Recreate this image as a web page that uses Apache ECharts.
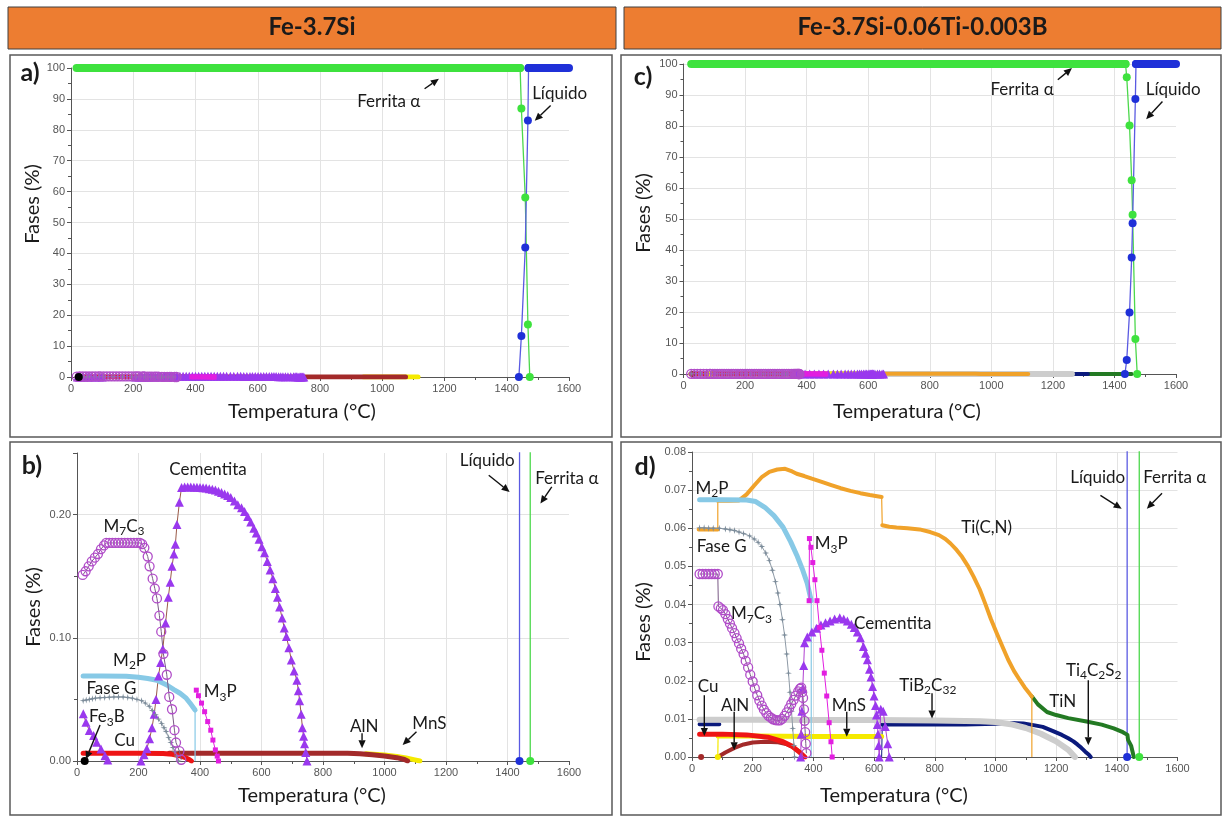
<!DOCTYPE html>
<html>
<head>
<meta charset="utf-8">
<script src="https://cdn.jsdelivr.net/npm/echarts/dist/echarts.min.js"></script>
<style>
html, body { margin: 0; padding: 0; background: #ffffff; }
#main { width: 1223px; height: 819px; }
</style>
</head>
<body>
<div id="main"></div>
<script>
// ---------------- Fe-3.7Si : phase fractions (T in °C, value in %) ----------------
const FERRITE1_PLATEAU = [[18, 100], [1443, 100]];
const FERRITE1_TRANS = [[1443, 100], [1447, 86.9], [1459.5, 58.1], [1468, 17], [1474, 0]];
const LIQUID1_TRANS = [[1439, 0], [1447, 13.3], [1459.5, 41.9], [1468, 83], [1470, 100]];
const LIQUID1_PLATEAU = [[1470, 100], [1600, 100]];

const MNS1 = [[940, 0.0058], [1000, 0.0048], [1040, 0.0036], [1070, 0.0024], [1095, 0.0011], [1115, 0]];
const ALN1 = [[300, 0.0063], [500, 0.0063], [700, 0.0063], [880, 0.0062], [920, 0.0058], [960, 0.005],
  [1000, 0.0041], [1040, 0.0027], [1065, 0.0012], [1075, 0]];
const CEMENTITE1 = [[208, 0], [218, 0.005], [227, 0.01], [236, 0.018], [244, 0.027], [251, 0.038], [257, 0.05],
  [265, 0.069], [272, 0.08], [279, 0.091], [288, 0.112], [297, 0.133], [303, 0.145], [309, 0.158], [315, 0.168],
  [320, 0.176], [325, 0.192], [333, 0.21], [340, 0.222], [350, 0.2225], [360, 0.2225], [370, 0.2225],
  [380, 0.2222], [390, 0.2222], [400, 0.222], [410, 0.2218], [420, 0.2215], [430, 0.221], [440, 0.2205],
  [450, 0.22], [460, 0.219], [470, 0.218], [480, 0.2168], [490, 0.2155], [500, 0.2138], [512, 0.211],
  [523, 0.208], [535, 0.2055], [545, 0.2025], [555, 0.1985], [565, 0.194], [575, 0.189], [583, 0.185],
  [592, 0.18], [601, 0.174], [610, 0.169], [619, 0.162], [628, 0.155], [637, 0.148], [645, 0.14], [652, 0.133],
  [659, 0.125], [667, 0.116], [674, 0.108], [681, 0.101], [689, 0.092], [697, 0.082], [706, 0.073],
  [715, 0.0655], [720, 0.057], [724, 0.049], [729, 0.038], [733, 0.027], [737, 0.02], [740, 0.014],
  [744, 0.007], [748, 0]];
const CEMENTITE1_LOW = [[20.6, 0.0383], [29, 0.0315], [40, 0.0247], [54, 0.0207], [64, 0.0152], [78, 0.0098],
  [91, 0.0043], [100, 0.0008]];
const M2P1 = [[20, 0.069], [80, 0.069], [160, 0.0688], [200, 0.068], [230, 0.067], [260, 0.0655], [292, 0.0617],
  [315, 0.058], [335, 0.055], [355, 0.051], [368, 0.0468], [384, 0.0414]];
const M2P1_DROP = [[384, 0.0414], [384, 0]];
const FASEG1 = [[20, 0.049], [30, 0.0495], [40, 0.05], [50, 0.0505], [60, 0.051], [75, 0.0513], [90, 0.0515],
  [105, 0.0518], [120, 0.052], [135, 0.052], [150, 0.052], [165, 0.0515], [180, 0.051], [195, 0.05],
  [210, 0.049], [222, 0.047], [235, 0.0445], [245, 0.041], [255, 0.0375], [265, 0.034], [275, 0.0305],
  [283, 0.027], [290, 0.024], [298, 0.019], [305, 0.015], [312, 0.011], [318, 0.0075], [324, 0.004], [330, 0]];
const M3P1 = [[388, 0.0575], [395, 0.053], [405, 0.047], [415, 0.04], [425, 0.032], [435, 0.025], [442, 0.017],
  [450, 0.009], [456, 0.004], [460, 0]];
const CU1 = [[20, 0.0063], [100, 0.0063], [200, 0.0062], [280, 0.006], [310, 0.0055], [330, 0.0045],
  [350, 0.003], [365, 0.0012], [372, 0]];
const M7C31 = [[18.5, 0.151], [28, 0.154], [38, 0.158], [48, 0.162], [58, 0.165], [68, 0.168], [78, 0.172],
  [88, 0.175], [95, 0.177], [105, 0.177], [115, 0.177], [125, 0.177], [135, 0.177], [145, 0.177], [155, 0.177],
  [165, 0.177], [175, 0.177], [185, 0.177], [195, 0.177], [205, 0.177], [212, 0.176], [219, 0.173],
  [230, 0.166], [236, 0.158], [246, 0.148], [253, 0.14], [260, 0.132], [268, 0.118], [274, 0.105],
  [281, 0.087], [292, 0.07], [300, 0.052], [309, 0.042], [317, 0.025], [322, 0.015], [333, 0.008], [339, 0.001]];
const FE3B1 = [[25, 0]];

// ---------------- Fe-3.7Si-0.06Ti-0.003B ----------------
const FERRITE2_PLATEAU = [[25, 100], [1436, 100]];
const FERRITE2_TRANS = [[1436, 100], [1440, 95.7], [1449, 80.2], [1456, 62.5], [1459, 51.4], [1468, 11.3], [1474, 0]];
const LIQUID2_TRANS = [[1434, 0], [1440, 4.5], [1449, 19.8], [1456, 37.6], [1459, 48.6], [1468, 88.7], [1470, 100]];
const LIQUID2_PLATEAU = [[1470, 100], [1600, 100]];

const TIN2 = [[1120, 0.0159], [1140, 0.0138], [1170, 0.0118], [1200, 0.011], [1240, 0.0102], [1300, 0.0093],
  [1350, 0.0085], [1390, 0.0075], [1420, 0.0065], [1435, 0.0058], [1437, 0.0045], [1447, 0.003], [1456, 0]];
const TI4C2S2_2 = [[25, 0.0086], [90, 0.0086], null,
  [627, 0.0085], [700, 0.0085], [800, 0.0085], [900, 0.0085], [1000, 0.0087], [1050, 0.0089], [1092, 0.0088],
  [1130, 0.0083], [1156, 0.0079], [1190, 0.0068], [1219, 0.0058], [1240, 0.0049], [1257, 0.0041],
  [1270, 0.0033], [1283, 0.0024], [1296, 0.0014], [1308, 0.0006], [1314, 0]];
const TI4C2S2_2_RISE = [[625, 0], [627, 0.0085]];
const TIB2C32_2 = [[25, 0.0098], [200, 0.0098], [400, 0.0097], [600, 0.0097], [800, 0.0096], [950, 0.0094],
  [1000, 0.0092], [1050, 0.0086], [1100, 0.0076], [1150, 0.0061], [1200, 0.0041], [1240, 0.0019], [1262, 0]];
const TICN2 = [[22, 0.0597], [50, 0.0597], [85, 0.0597], null,
  [85, 0.0672], [120, 0.0672], [155, 0.0673], [180, 0.0689], [205, 0.0712], [231, 0.0735], [255, 0.0748],
  [281, 0.0754], [307, 0.0756], [330, 0.0749], [345, 0.0743], [370, 0.0737], [395, 0.073], [430, 0.0721],
  [459, 0.0713], [490, 0.0705], [522, 0.0698], [555, 0.0692], [586, 0.0687], [610, 0.0684], [625, 0.0682], null,
  [627, 0.0608], [650, 0.0604], [674, 0.0602], [710, 0.06], [750, 0.0597], [785, 0.059], [814, 0.0582],
  [835, 0.0572], [852, 0.056], [872, 0.0543], [890, 0.0525], [910, 0.05], [928, 0.0473], [948, 0.044],
  [966, 0.0403], [985, 0.0362], [1004, 0.0325], [1023, 0.029], [1042, 0.0255], [1061, 0.0226], [1080, 0.0202],
  [1096, 0.0183], [1111, 0.0168], [1120, 0.0159]];
const TICN2_STEPS = [[85, 0.0597], [85, 0.0672], null, [625, 0.0682], [627, 0.0608], null, [1120, 0.0159], [1120, 0]];
const ALN2 = [[85, 0], [110, 0.0012], [140, 0.0024], [170, 0.0033], [200, 0.0038], [240, 0.004], [280, 0.0039],
  [310, 0.0034], [335, 0.0025], [355, 0.0013], [368, 0]];
const ALN2_DOT = [[30, 0]];
const CEMENTITE2 = [[358, 0], [360, 0.006], [362, 0.012], [365, 0.018], [368, 0.024], [371, 0.03], [380, 0.0315],
  [395, 0.0328], [410, 0.0338], [425, 0.0346], [440, 0.0352], [455, 0.0357], [470, 0.0362], [487, 0.0365],
  [500, 0.0362], [512, 0.0357], [525, 0.0348], [535, 0.034], [545, 0.0328], [555, 0.0313], [565, 0.029],
  [572, 0.0272], [578, 0.0255], [585, 0.023], [590, 0.021], [595, 0.0185], [600, 0.016], [605, 0.0135],
  [608, 0.011], [611, 0.0085], [613, 0.006], [615, 0.003], [617, 0], [622, 0.0125], [630, 0.012], [637, 0.008],
  [645, 0.0035], [650, 0]];
const MNS2 = [[86, 0.0055], [200, 0.0055], [400, 0.0054], [625, 0.0054]];
const MNS2_RISE = [[85, 0], [86, 0.0055]];
const MNS2_DOT = [[85, 0]];
const M2P2 = [[25, 0.0675], [100, 0.0675], [180, 0.0674], [210, 0.067], [240, 0.0655], [270, 0.0633],
  [300, 0.0603], [325, 0.0565], [345, 0.053], [365, 0.049], [380, 0.0455], [393, 0.041]];
const M2P2_DROP = [[393, 0.041], [393, 0]];
const FASEG2 = [[25, 0.0601], [40, 0.0601], [55, 0.06], [70, 0.06], [90, 0.06], [110, 0.0598], [125, 0.0596],
  [140, 0.0594], [155, 0.059], [170, 0.0586], [190, 0.058], [205, 0.0572], [218, 0.0563], [230, 0.0552],
  [243, 0.0535], [255, 0.0515], [265, 0.049], [275, 0.046], [283, 0.043], [290, 0.04], [298, 0.036],
  [305, 0.032], [312, 0.027], [318, 0.022], [323, 0.017], [328, 0.012], [332, 0.0075], [336, 0.003], [338, 0]];
const M3P2 = [[386, 0.041], [387, 0.0573], [392, 0.055], [398, 0.051], [405, 0.0465], [412, 0.041], [420, 0.034],
  [428, 0.028], [436, 0.022], [444, 0.016], [452, 0.009], [458, 0.004], [462, 0]];
const CU2 = [[25, 0.006], [100, 0.006], [180, 0.0058], [250, 0.0052], [300, 0.004], [330, 0.0028],
  [355, 0.0012], [372, 0]];
const M7C32 = [[25, 0.048], [35, 0.048], [45, 0.048], [55, 0.048], [65, 0.048], [75, 0.048], [85, 0.048],
  [87, 0.0395], [95, 0.039], [102, 0.0385], [110, 0.0375], [118, 0.0362], [125, 0.035], [132, 0.0338],
  [140, 0.0325], [147, 0.0312], [155, 0.0298], [162, 0.0284], [170, 0.027], [177, 0.0252], [185, 0.0235],
  [192, 0.0216], [200, 0.0198], [207, 0.018], [215, 0.0162], [222, 0.0148], [230, 0.0135], [237, 0.0124],
  [245, 0.0115], [252, 0.0108], [260, 0.0103], [267, 0.0099], [275, 0.0097], [282, 0.0096], [290, 0.0096],
  [297, 0.01], [305, 0.0108], [312, 0.0117], [320, 0.0128], [327, 0.0139], [335, 0.015], [342, 0.0161],
  [350, 0.0172], [356, 0.0179], [360, 0.0182], [363, 0.017], [366, 0.0155], [369, 0.0125], [371, 0.0095],
  [373, 0.0065], [375, 0.0035], [377, 0.001]];

// ---------------- axes ----------------
const X_TICKS = { min: 0, max: 1600, interval: 200 };
const Y_TICKS = [
  { max: 100, interval: 10, digits: 0 },   // a) Fe-3.7Si, full scale
  { max: 0.25, interval: 0.1, digits: 2 },  // b) Fe-3.7Si, minor phases
  { max: 100, interval: 10, digits: 0 },   // c) Ti-B alloy, full scale
  { max: 0.08, interval: 0.01, digits: 2 } // d) Ti-B alloy, minor phases
];
const HEADERS = ['Fe-3.7Si', 'Fe-3.7Si-0.06Ti-0.003B'];
const PANEL_TAGS = ['a)', 'b)', 'c)', 'd)'];
const X_TITLE = 'Temperatura (°C)';
const Y_TITLE = 'Fases (%)';

// ---------------- annotations (anchors in data units) ----------------
const NOTES = [
  // grid, text, [T, value]
  [0, 'Ferrita α', [1021, 89.2]], [0, 'Líquido', [1570, 91.7]],
  [2, 'Ferrita α', [1100, 91.7]], [2, 'Líquido', [1591, 91.7]],
  [1, 'Cementita', [426, 0.2366]], [1, 'M{s|7}C{s|3}', [153, 0.1906]], [1, 'M{s|2}P', [171, 0.0819]],
  [1, 'Fase G', [112, 0.059]], [1, 'M{s|3}P', [466, 0.0562]], [1, 'Fe{s|3}B', [97, 0.0359]],
  [1, 'Cu', [155, 0.017]], [1, 'AlN', [934, 0.0278]], [1, 'MnS', [1146, 0.0306]],
  [1, 'Líquido', [1334, 0.2436]], [1, 'Ferrita α', [1593, 0.2293]],
  [3, 'M{s|2}P', [66, 0.0705]], [3, 'Fase G', [98, 0.0552]], [3, 'M{s|3}P', [459, 0.0559]],
  [3, 'M{s|7}C{s|3}', [196, 0.0376]], [3, 'Cementita', [661.5, 0.035]], [3, 'Ti(C,N)', [971, 0.0601]],
  [3, 'Cu', [53, 0.0184]], [3, 'AlN', [142, 0.0136]], [3, 'MnS', [517, 0.0136]],
  [3, 'TiB{s|2}C{s|32}', [777, 0.0188]], [3, 'TiN', [1222, 0.0145]], [3, 'Ti{s|4}C{s|2}S{s|2}', [1324, 0.0228]],
  [3, 'Líquido', [1337, 0.0733]], [3, 'Ferrita α', [1591, 0.0733]]
];
const POINTERS = [
  // grid, from [T, value], to [T, value]
  [0, [1136, 93.3], [1182, 96.5]], [0, [1541, 87.9], [1490, 82.9]],
  [2, [1216, 94.9], [1262, 98.7]], [2, [1556, 87.9], [1503, 82.2]],
  [1, [75, 0.0292], [29, 0.0014]], [1, [927, 0.0225], [927, 0.0103]], [1, [1104, 0.0238], [1059, 0.013]],
  [1, [1339, 0.232], [1407, 0.2184]], [1, [1544, 0.2225], [1507, 0.209]],
  [3, [40.6, 0.0162], [40.6, 0.0055]], [3, [139, 0.0119], [139, 0.0018]], [3, [510, 0.0119], [510, 0.0053]],
  [3, [791, 0.0167], [791, 0.0101]], [3, [1306, 0.0201], [1306, 0.0031]],
  [3, [1346, 0.0686], [1416, 0.0651]], [3, [1549, 0.0692], [1499, 0.0651]]
];

// ---------------- styling ----------------
const FONT = 'Lato, "Noto Sans", sans-serif';
const C = {
  green: '#3ee23e', greenLine: '#4cd84c', blue: '#1f30d8', blueLine: '#5a5ae2', m7c3: '#b04cc8', cem: '#9a38ee',
  cemLine: '#9a5a48', m2p: '#87c9e6', faseG: '#7c8c9a', m3p: '#e21ee0', cu: '#ee1515', aln: '#a32a2a',
  mns: '#f5ea00', black: '#000000', ticn: '#f0a22a', tin: '#237a23', navy: '#0b1a7c', tib: '#cdcdcd'
};
const STAR = 'path://M5 0 L6 4 L10 5 L6 6 L5 10 L4 6 L0 5 L4 4 Z';

function base(grid, data) {
  return {
    type: 'line', xAxisIndex: grid, yAxisIndex: grid, data: data, animation: false, silent: true,
    connectNulls: false, clip: true, emphasis: { disabled: true }
  };
}
function band(grid, data, color, width) {
  return Object.assign(base(grid, data), {
    symbol: 'none', showSymbol: false,
    lineStyle: { color: color, width: width, cap: 'round', join: 'round' }, itemStyle: { color: color }
  });
}
function thin(grid, data, color, width) {
  return Object.assign(base(grid, data), {
    symbol: 'none', showSymbol: false, lineStyle: { color: color, width: width || 1 }, itemStyle: { color: color }
  });
}
function marks(grid, data, o) {
  return Object.assign(base(grid, data), {
    symbol: o.symbol, symbolSize: o.size, showSymbol: true, showAllSymbol: true,
    lineStyle: { color: o.line, width: o.lineWidth || 1 },
    itemStyle: o.hollow ? { color: 'rgba(0,0,0,0)', borderColor: o.color, borderWidth: 1.3 }
                        : { color: o.color, borderWidth: 0 }
  });
}
function dots(grid, data, color, size) {
  return Object.assign(base(grid, data), {
    symbol: 'circle', symbolSize: size, showSymbol: true, lineStyle: { width: 0 }, itemStyle: { color: color }
  });
}

// drawing order, bottom to top
function seriesFe37Si(g) {
  return [
    band(g, FERRITE1_PLATEAU, C.green, 8),
    marks(g, FERRITE1_TRANS, { symbol: 'circle', size: 8, color: C.green, line: C.greenLine, lineWidth: 1.3 }),
    band(g, LIQUID1_PLATEAU, C.blue, 8),
    marks(g, LIQUID1_TRANS, { symbol: 'circle', size: 8, color: C.blue, line: C.blueLine, lineWidth: 1.3 }),
    band(g, MNS1, C.mns, 5),
    band(g, ALN1, C.aln, 5),
    marks(g, CEMENTITE1, { symbol: 'triangle', size: 9, color: C.cem, line: C.cemLine }),
    marks(g, CEMENTITE1_LOW, { symbol: 'triangle', size: 9, color: C.cem, line: C.cemLine }),
    band(g, M2P1, C.m2p, 5),
    thin(g, M2P1_DROP, C.m2p, 1.2),
    marks(g, FASEG1, { symbol: STAR, size: 7, color: C.faseG, line: '#8e9aa6' }),
    marks(g, M3P1, { symbol: 'rect', size: 5, color: C.m3p, line: C.m3p }),
    band(g, CU1, C.cu, 5),
    marks(g, M7C31, { symbol: 'circle', size: 9, color: C.m7c3, line: '#7a5a86', hollow: true }),
    dots(g, FE3B1, C.black, 8)
  ];
}
function seriesFeSiTiB(g) {
  return [
    band(g, FERRITE2_PLATEAU, C.green, 8),
    marks(g, FERRITE2_TRANS, { symbol: 'circle', size: 8, color: C.green, line: C.greenLine, lineWidth: 1.3 }),
    band(g, LIQUID2_PLATEAU, C.blue, 8),
    marks(g, LIQUID2_TRANS, { symbol: 'circle', size: 8, color: C.blue, line: C.blueLine, lineWidth: 1.3 }),
    band(g, TIN2, C.tin, 4),
    band(g, TI4C2S2_2, C.navy, 4),
    thin(g, TI4C2S2_2_RISE, C.navy, 1),
    band(g, TIB2C32_2, C.tib, 6),
    band(g, TICN2, C.ticn, 4),
    thin(g, TICN2_STEPS, C.ticn, 1.2),
    band(g, ALN2, C.aln, 4),
    dots(g, ALN2_DOT, C.aln, 6),
    marks(g, CEMENTITE2, { symbol: 'triangle', size: 9, color: C.cem, line: '#b040d0' }),
    band(g, MNS2, C.mns, 5),
    thin(g, MNS2_RISE, C.mns, 1.2),
    dots(g, MNS2_DOT, C.mns, 6),
    band(g, M2P2, C.m2p, 5),
    thin(g, M2P2_DROP, C.m2p, 1.2),
    marks(g, FASEG2, { symbol: STAR, size: 7, color: C.faseG, line: '#8e9aa6' }),
    marks(g, M3P2, { symbol: 'rect', size: 5, color: C.m3p, line: C.m3p }),
    band(g, CU2, C.cu, 5),
    marks(g, M7C32, { symbol: 'circle', size: 9, color: C.m7c3, line: '#7a5a86', hollow: true })
  ];
}

// ---------------- layout ----------------
const GRID_BOX = [
  { left: 71, top: 68, width: 498, height: 309 },
  { left: 77, top: 453, width: 492, height: 308 },
  { left: 683.5, top: 64, width: 492.5, height: 310 },
  { left: 692, top: 452, width: 485.5, height: 305 }
];
const AXIS_COLOR = '#555555';
const GRID_LINE = '#e3e3e3';
const TICK_FONT = { color: '#555', fontSize: 11, fontFamily: '"Liberation Sans", sans-serif', margin: 6 };

const xAxes = GRID_BOX.map((b, i) => ({
  type: 'value', gridIndex: i, min: X_TICKS.min, max: X_TICKS.max, interval: X_TICKS.interval,
  axisLine: { show: true, onZero: false, lineStyle: { color: AXIS_COLOR, width: 1 } },
  axisTick: { show: true, length: 4, lineStyle: { color: AXIS_COLOR } },
  minorTick: { show: true, splitNumber: 2, length: 3, lineStyle: { color: AXIS_COLOR } },
  axisLabel: Object.assign({ formatter: v => String(Math.round(v)) }, TICK_FONT),
  splitLine: { show: true, showMinLine: false, showMaxLine: false, lineStyle: { color: GRID_LINE, width: 1 } },
  minorSplitLine: { show: false }
}));
const yAxes = Y_TICKS.map((t, i) => ({
  type: 'value', gridIndex: i, min: 0, max: t.max, interval: t.interval,
  axisLine: { show: true, onZero: false, lineStyle: { color: AXIS_COLOR, width: 1 } },
  axisTick: { show: true, length: 4, lineStyle: { color: AXIS_COLOR } },
  minorTick: { show: true, splitNumber: 2, length: 3, lineStyle: { color: AXIS_COLOR } },
  axisLabel: Object.assign({
    formatter: v => (Math.abs(v / t.interval - Math.round(v / t.interval)) > 1e-6 ? '' : v.toFixed(t.digits))
  }, TICK_FONT),
  splitLine: { show: true, showMinLine: false, showMaxLine: i !== 1, lineStyle: { color: GRID_LINE, width: 1 } },
  minorSplitLine: { show: false }
}));

const chart = echarts.init(document.getElementById('main'), null, { renderer: 'canvas', width: 1223, height: 819 });
chart.setOption({
  backgroundColor: '#ffffff',
  animation: false,
  grid: GRID_BOX.map(b => Object.assign({ containLabel: false, outerBoundsMode: 'none' }, b)),
  xAxis: xAxes,
  yAxis: yAxes,
  series: [].concat(seriesFe37Si(0), seriesFe37Si(1), seriesFeSiTiB(2), seriesFeSiTiB(3))
});

// ---------------- frames, headers, titles and annotations ----------------
const INK = '#1a1a1a';
const RICH = {
  s: { fontSize: 12, fontFamily: FONT, lineHeight: 10, verticalAlign: 'bottom', fill: INK }
};
function text(x, y, str, font, extra) {
  return Object.assign({
    type: 'text', x: x, y: y, z: 100, silent: true,
    style: {
      text: str, font: font, fill: INK, align: 'center', verticalAlign: 'middle',
      textAlign: 'center', textVerticalAlign: 'middle', lineHeight: 22, rich: RICH
    }
  }, extra || {});
}
function arrow(p, q) {
  const dx = q[0] - p[0], dy = q[1] - p[1];
  const L = Math.sqrt(dx * dx + dy * dy), ux = dx / L, uy = dy / L;
  const hl = 8, hw = 3.6;
  const bx = q[0] - ux * hl, by = q[1] - uy * hl;
  return [
    { type: 'line', z: 100, silent: true, shape: { x1: p[0], y1: p[1], x2: bx, y2: by },
      style: { stroke: '#111', lineWidth: 1.4 } },
    { type: 'polygon', z: 100, silent: true,
      shape: { points: [[q[0], q[1]], [bx - uy * hw, by + ux * hw], [bx + uy * hw, by - ux * hw]] },
      style: { fill: '#111' } }
  ];
}

const els = [];
// orange column headers
const HEADER_BOX = [{ x: 8, y: 7, w: 608, h: 42 }, { x: 624, y: 7, w: 597, h: 42 }];
HEADER_BOX.forEach((h, i) => {
  els.push({ type: 'rect', z: 1, silent: true, shape: { x: h.x, y: h.y, width: h.w, height: h.h },
    style: { fill: '#ed7d31', stroke: '#404040', lineWidth: 1 } });
  els.push(text(h.x + h.w / 2, h.y + h.h / 2 - 1, HEADERS[i], 'bold 24px ' + FONT));
});
// panel frames
const FRAMES = [
  { x: 10, y: 55, w: 602, h: 382 }, { x: 10, y: 442, w: 602, h: 373 },
  { x: 621, y: 55, w: 600, h: 382 }, { x: 621, y: 442, w: 600, h: 373 }
];
FRAMES.forEach(f => els.push({ type: 'rect', z: 1, silent: true, shape: { x: f.x, y: f.y, width: f.w, height: f.h },
  style: { fill: 'none', stroke: '#5a5a5a', lineWidth: 1.5 } }));
// panel tags
const TAG_POS = [[30, 73], [32, 466], [643, 77], [645, 467]];
PANEL_TAGS.forEach((t, i) => els.push(text(TAG_POS[i][0], TAG_POS[i][1], t, 'bold 25px ' + FONT)));
// axis titles
const XT_POS = [[302, 412], [312, 796], [907, 412], [894, 796]];
const YT_POS = [[33, 204], [34, 607], [644, 213], [644, 622]];
for (let i = 0; i < 4; i++) {
  els.push(text(XT_POS[i][0], XT_POS[i][1], X_TITLE, '20px ' + FONT));
  els.push(text(YT_POS[i][0], YT_POS[i][1], Y_TITLE, '20px ' + FONT, { rotation: Math.PI / 2 }));
}
// phase labels and pointers placed from data coordinates
const px = (g, pt) => chart.convertToPixel({ gridIndex: g }, pt);
NOTES.forEach(n => {
  const p = px(n[0], n[2]);
  els.push(text(p[0], p[1], n[1], '17px ' + FONT));
});
POINTERS.forEach(a => {
  arrow(px(a[0], a[1]), px(a[0], a[2])).forEach(e => els.push(e));
});

chart.setOption({ graphic: { elements: els } });
</script>
</body>
</html>
